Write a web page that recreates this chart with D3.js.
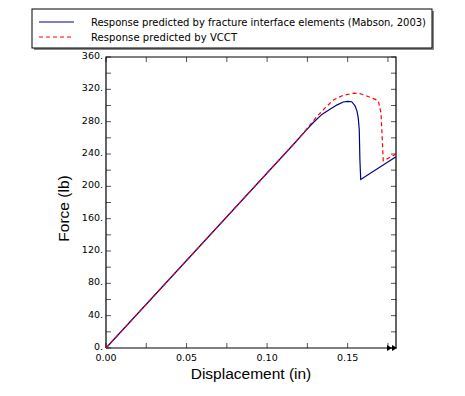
<!DOCTYPE html>
<html>
<head>
<meta charset="utf-8">
<script src="https://cdn.jsdelivr.net/npm/d3@7"></script>
<style>
  body { margin: 0; background: #fff; }
  .tick-label { font-family: "DejaVu Sans", Verdana, sans-serif; font-size: 9.5px; fill: #000; }
  .legend-label { font-family: "DejaVu Sans", Verdana, sans-serif; font-size: 10px; fill: #000; }
  .title { font-family: "Liberation Sans", Arial, sans-serif; font-size: 15.5px; fill: #000; }
</style>
</head>
<body>
<div id="chart"></div>
<script>
// series: displacement (in), force (lb)
var feDisp  = [0, 0.118, 0.124, 0.1287, 0.1340, 0.139, 0.1432, 0.1473, 0.1500, 0.1525, 0.1545, 0.1558, 0.1566, 0.1572, 0.1576, 0.1581, 0.180];
var feForce = [0, 255.5, 269, 279, 289, 295.5, 300.5, 304.3, 305.2, 304.7, 300, 293, 284, 269.7, 232.6, 208.5, 236.5];

var vcDisp  = [0, 0.118, 0.1250, 0.1308, 0.1360, 0.1411, 0.1470, 0.1535, 0.1580, 0.1618, 0.1660, 0.1690, 0.1707, 0.1717, 0.1721, 0.1752, 0.180];
var vcForce = [0, 255.5, 272, 286.2, 297, 306.8, 312.5, 315.2, 314.5, 311.8, 308.5, 306, 290.3, 249, 231.7, 234.7, 240];

var yTicks = [0, 40, 80, 120, 160, 200, 240, 280, 320, 360];
var xTicks = [0, 0.05, 0.10, 0.15];

var legendLabels = [
  'Response predicted by fracture interface elements (Mabson, 2003)',
  'Response predicted by VCCT'
];

var svg = d3.select('#chart').append('svg')
  .attr('width', 465)
  .attr('height', 396);

var margin = { top: 57, right: 69, bottom: 48, left: 106 };
var width = 465 - margin.left - margin.right;
var height = 396 - margin.top - margin.bottom;

var x = d3.scaleLinear().domain([0, 0.18]).range([0, width]);
var y = d3.scaleLinear().domain([0, 360]).range([height, 0]);

var g = svg.append('g')
  .attr('transform', 'translate(' + margin.left + ',' + margin.top + ')');

// minor + major ticks on all four sides, pointing inward
var yMinor = d3.range(0, 361, 20);
var xMinor = d3.range(0, 0.18, 0.025);

g.selectAll('.ytl').data(yMinor).enter().append('line')
  .attr('x1', 0).attr('x2', 5)
  .attr('y1', function(d) { return y(d); }).attr('y2', function(d) { return y(d); })
  .attr('stroke', '#555');
g.selectAll('.ytr').data(yMinor).enter().append('line')
  .attr('x1', width - 5).attr('x2', width)
  .attr('y1', function(d) { return y(d); }).attr('y2', function(d) { return y(d); })
  .attr('stroke', '#555');
g.selectAll('.xtb').data(xMinor).enter().append('line')
  .attr('x1', function(d) { return x(d); }).attr('x2', function(d) { return x(d); })
  .attr('y1', height).attr('y2', height - 5)
  .attr('stroke', '#555');
g.selectAll('.xtt').data(xMinor).enter().append('line')
  .attr('x1', function(d) { return x(d); }).attr('x2', function(d) { return x(d); })
  .attr('y1', 0).attr('y2', 5)
  .attr('stroke', '#555');

// frame
g.append('path')
  .attr('d', 'M0,' + height + 'V0H' + width + 'V' + height + 'H0')
  .attr('fill', 'none')
  .attr('stroke', '#000')
  .attr('stroke-width', 1.2);

// tick labels
g.selectAll('.ylab').data(yTicks).enter().append('text')
  .attr('class', 'tick-label')
  .attr('x', -3)
  .attr('y', function(d) { return y(d) + 2; })
  .attr('text-anchor', 'end')
  .text(function(d) { return d + '.'; });

g.selectAll('.xlab').data(xTicks).enter().append('text')
  .attr('class', 'tick-label')
  .attr('x', function(d) { return x(d); })
  .attr('y', height + 13)
  .attr('text-anchor', 'middle')
  .text(function(d) { return d3.format('.2f')(d); });

// double arrow at the end of the x axis (axis cut off)
[0, 5].forEach(function(off) {
  g.append('path')
    .attr('d', 'M' + (width - 9 + off) + ',' + (height - 3) + 'l5,3l-5,3z')
    .attr('fill', '#000');
});

// axis titles
svg.append('text')
  .attr('class', 'title')
  .attr('x', margin.left + width / 2)
  .attr('y', 379)
  .attr('text-anchor', 'middle')
  .text('Displacement (in)');

svg.append('text')
  .attr('class', 'title')
  .attr('transform', 'translate(69,' + (margin.top + height / 2 + 6) + ') rotate(-90)')
  .attr('text-anchor', 'middle')
  .text('Force (lb)');

// curves
var line = d3.line()
  .x(function(d) { return x(d[0]); })
  .y(function(d) { return y(d[1]); });

var fe = d3.zip(feDisp, feForce);
var vc = d3.zip(vcDisp, vcForce);

g.append('path')
  .datum(fe)
  .attr('fill', 'none')
  .attr('stroke', '#00008b')
  .attr('stroke-width', 1.2)
  .attr('d', line);

g.append('path')
  .datum(vc)
  .attr('fill', 'none')
  .attr('stroke', '#ff0000')
  .attr('stroke-width', 1.2)
  .attr('stroke-dasharray', '4,3')
  .attr('d', line);

// legend
var lg = svg.append('g');
lg.append('rect')
  .attr('x', 34).attr('y', 11).attr('width', 400).attr('height', 39)
  .attr('fill', '#888');
lg.append('rect')
  .attr('x', 32).attr('y', 9).attr('width', 400).attr('height', 39)
  .attr('fill', '#fff')
  .attr('stroke', '#000')
  .attr('stroke-width', 1);

var legendColors = ['#00008b', '#ff0000'];
var legendDash = [null, '4,3'];
var legendWidths = [335, 146];
legendLabels.forEach(function(label, i) {
  var ly = 22 + i * 15;
  lg.append('line')
    .attr('x1', 39).attr('x2', 74)
    .attr('y1', ly).attr('y2', ly)
    .attr('stroke', legendColors[i])
    .attr('stroke-width', 1.2)
    .attr('stroke-dasharray', legendDash[i]);
  lg.append('text')
    .attr('class', 'legend-label')
    .attr('x', 91)
    .attr('y', ly + 4)
    .attr('textLength', legendWidths[i])
    .attr('lengthAdjust', 'spacing')
    .text(label);
});
</script>
</body>
</html>
